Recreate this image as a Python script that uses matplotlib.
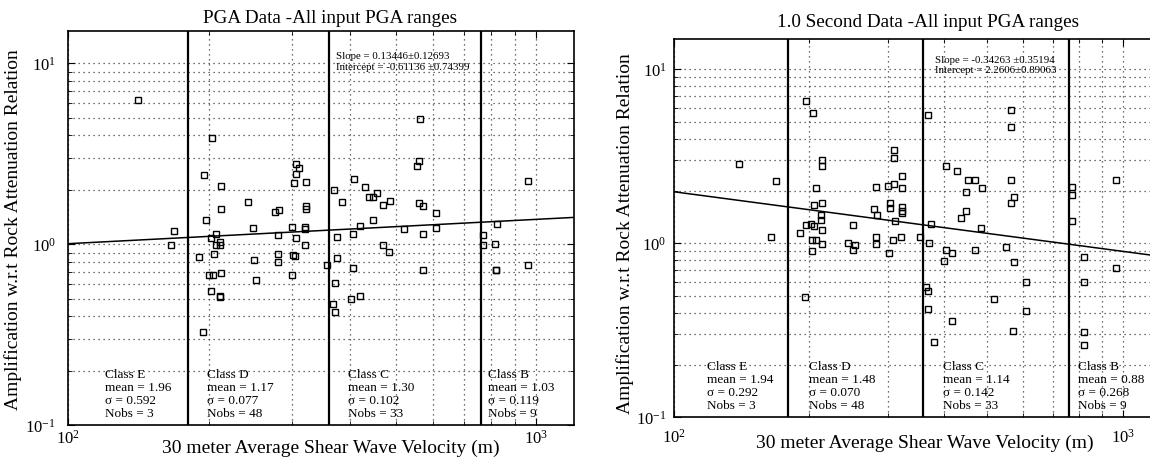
import numpy as np
import matplotlib.pyplot as plt
from matplotlib import ticker

plt.rcParams['font.family'] = ['Liberation Serif', 'DejaVu Serif']
plt.rcParams['mathtext.fontset'] = 'custom'
plt.rcParams['mathtext.rm'] = 'Liberation Serif'
plt.rcParams['mathtext.it'] = 'Liberation Serif:italic'
plt.rcParams['mathtext.bf'] = 'Liberation Serif:bold'

# ---- PGA panel (left) ----
pga_vs = [141, 168, 166,
          203, 195, 212, 242, 212, 276, 282, 197, 248, 207, 202, 281, 301,
          307, 311, 307, 303, 322, 322, 322, 321, 321, 306, 211, 211, 207,
          190, 205, 249, 281, 281, 302, 305, 320, 200, 204, 212, 252, 300,
          202, 211, 211, 194, 356,
          563, 562, 555, 407, 369, 430, 438, 448, 457, 385, 470, 487, 561,
          572, 611, 448, 420, 521, 610, 572, 405, 375, 469, 485, 374, 405,
          572, 371, 402, 420, 368, 371,
          769, 769, 822, 817, 818, 818, 959, 959]
pga_amp = [6.3, 1.18, 0.99,
           3.85, 2.40, 2.10, 1.71, 1.56, 1.50, 1.54, 1.37, 1.23, 1.14, 1.09, 1.12, 1.24,
           2.77, 2.63, 2.45, 2.19, 2.21, 1.63, 1.57, 1.25, 1.21, 1.08, 0.99, 1.03, 0.99,
           0.855, 0.88, 0.82, 0.88, 0.80, 0.87, 0.865, 0.99, 0.68, 0.68, 0.69, 0.635, 0.68,
           0.555, 0.52, 0.51, 0.327, 0.77,
           4.9, 2.89, 2.71, 2.29, 2.0, 2.07, 1.83, 1.83, 1.93, 1.72, 1.65, 1.74, 1.69,
           1.63, 1.48, 1.36, 1.27, 1.21, 1.23, 1.14, 1.14, 1.10, 0.99, 0.91, 0.84, 0.74,
           0.72, 0.61, 0.50, 0.52, 0.47, 0.42,
           1.12, 0.99, 1.29, 1.0, 0.72, 0.725, 0.77, 2.24]
pga_slope, pga_slope_err = 0.13446, 0.12693
pga_intercept, pga_intercept_err = -0.61136, 0.74399
pga_means = ['1.96', '1.17', '1.30', '1.03']
pga_sigmas = ['0.592', '0.077', '0.102', '0.119']

# ---- 1.0 second panel (right) ----
sec_vs = [140, 169, 165,
          197, 204.5, 214, 214, 208, 206, 214, 213, 213, 214, 197, 202, 206, 191,
          203, 208, 214, 203, 196, 251, 244, 253, 251, 283, 279, 284, 283, 283,
          301, 309, 309, 309, 303, 303, 312, 302, 308, 322, 322, 322, 322, 322,
          321, 353,
          368, 564, 564, 405, 428, 453, 469, 486, 447, 563, 572, 563, 447, 436,
          374, 485, 371, 405, 417, 401, 469, 551, 572, 609, 365, 368, 369, 517,
          609, 417, 571, 380,
          773, 773, 773, 820, 966, 966, 820, 822, 822]
sec_amp = [2.86, 2.29, 1.09,
           6.6, 5.58, 3.01, 2.78, 2.09, 1.66, 1.71, 1.45, 1.37, 1.20, 1.27, 1.29, 1.26, 1.15,
           1.05, 1.04, 0.99, 0.90, 0.49, 1.27, 1.0, 0.98, 0.915, 2.12, 1.57, 1.45, 1.09, 0.99,
           2.14, 2.19, 3.44, 3.1, 1.70, 1.59, 1.34, 0.88, 1.05, 2.44, 2.07, 1.61, 1.54, 1.49,
           1.08, 1.08,
           5.47, 5.84, 4.68, 2.78, 2.62, 2.31, 2.31, 2.09, 1.96, 2.31, 1.84, 1.70, 1.53, 1.40,
           1.29, 1.22, 1.01, 0.915, 0.88, 0.79, 0.915, 0.957, 0.78, 0.60, 0.56, 0.53, 0.42, 0.48,
           0.41, 0.36, 0.315, 0.27,
           2.10, 1.89, 1.34, 0.83, 0.72, 2.31, 0.60, 0.31, 0.26]
sec_slope, sec_slope_err = -0.34263, 0.35194
sec_intercept, sec_intercept_err = 2.2606, 0.89063
sec_means = ['1.94', '1.48', '1.14', '0.88']
sec_sigmas = ['0.292', '0.070', '0.142', '0.268']

class_names = ['Class E', 'Class D', 'Class C', 'Class B']
class_nobs = [3, 48, 33, 9]
class_edges = [180, 360, 760]


def draw_panel(ax, vs, amp, slope, icpt, means, sigmas, title,
               title_xy, text_x, stat_text, slope_txt):
    ax.set_xscale('log')
    ax.set_yscale('log')
    ax.set_xlim(100, 1200)
    ax.set_ylim(0.1, 15)
    ax.set_axisbelow(True)
    ax.grid(True, which='both', linestyle=(0, (1, 3)), color='0.25', linewidth=0.9)

    for e in class_edges:
        ax.axvline(e, color='black', lw=1.6)

    # fitted relation ln(A) = slope*ln(Vs) + intercept
    xx = np.linspace(100, 1200, 50)
    ax.plot(xx, np.exp(icpt) * xx ** slope, color='black', lw=1.1)

    ax.plot(vs, amp, 's', mfc='none', mec='black', ms=5, mew=1.0)

    ax.text(stat_text[0], stat_text[1], slope_txt[0], fontsize=7.8, va='center')
    ax.text(stat_text[0], stat_text[2], slope_txt[1], fontsize=7.8, va='center')

    for i in range(4):
        s = '%s\nmean = %s\n\u03c3 = %s\nNobs = %d' % (class_names[i], means[i],
                                                     sigmas[i], class_nobs[i])
        ax.text(text_x[i], 0.107, s, fontsize=9.5, linespacing=1.12,
                ha='left', va='bottom')

    ax.text(title_xy[0], title_xy[1], title, transform=ax.transAxes,
            ha='center', va='center', fontsize=13.8)

    ax.yaxis.set_minor_formatter(ticker.NullFormatter())
    ax.xaxis.set_minor_formatter(ticker.NullFormatter())
    ax.tick_params(which='both', direction='in', top=True, right=True)
    ax.tick_params(which='major', length=5, labelsize=12)
    ax.tick_params(which='minor', length=3)
    for s in ax.spines.values():
        s.set_linewidth(1.2)


def main():
    fig = plt.figure(figsize=(11.5, 4.65), dpi=100)

    ax1 = fig.add_axes([0.0595, 0.0854, 0.4392, 0.847])
    draw_panel(ax1, pga_vs, pga_amp, pga_slope, pga_intercept,
               pga_means, pga_sigmas,
               'PGA Data -All input PGA ranges', (0.519, 1.034),
               [120, 198, 396, 789], (373, 10.9, 9.5),
               ['Slope = %.5f\u00b1%.5f' % (pga_slope, pga_slope_err),
                'Intercept = %.5f \u00b1%.5f' % (pga_intercept, pga_intercept_err)])
    ax1.tick_params(axis='y', which='major', pad=9)
    ax1.tick_params(axis='x', which='major', pad=3)
    ax1.set_xlabel('30 meter Average Shear Wave Velocity (m)', fontsize=14)
    ax1.xaxis.set_label_coords(0.519, -0.037)
    ax1.set_ylabel('Amplification w.r.t Rock Attenuation Relation', fontsize=14)
    ax1.yaxis.set_label_coords(-0.092, 0.496)

    ax2 = fig.add_axes([0.5857, 0.1026, 0.4214, 0.8142])
    draw_panel(ax2, sec_vs, sec_amp, sec_slope, sec_intercept,
               sec_means, sec_sigmas,
               '1.0 Second Data -All input PGA ranges', (0.525, 1.044),
               [119, 200, 398, 794], (383, 11.3, 9.9),
               ['Slope = %.5f \u00b1%.5f' % (sec_slope, sec_slope_err),
                'Intercept = %.4f\u00b1%.5f' % (sec_intercept, sec_intercept_err)])
    ax2.tick_params(axis='y', which='major', pad=5)
    ax2.tick_params(axis='x', which='major', pad=8)
    ax2.set_xlabel('30 meter Average Shear Wave Velocity (m)', fontsize=14)
    ax2.xaxis.set_label_coords(0.519, -0.045)
    ax2.set_ylabel('Amplification w.r.t Rock Attenuation Relation', fontsize=14)
    ax2.yaxis.set_label_coords(-0.0815, 0.485)

    fig.savefig('out.png', dpi=100)


if __name__ == '__main__':
    main()
